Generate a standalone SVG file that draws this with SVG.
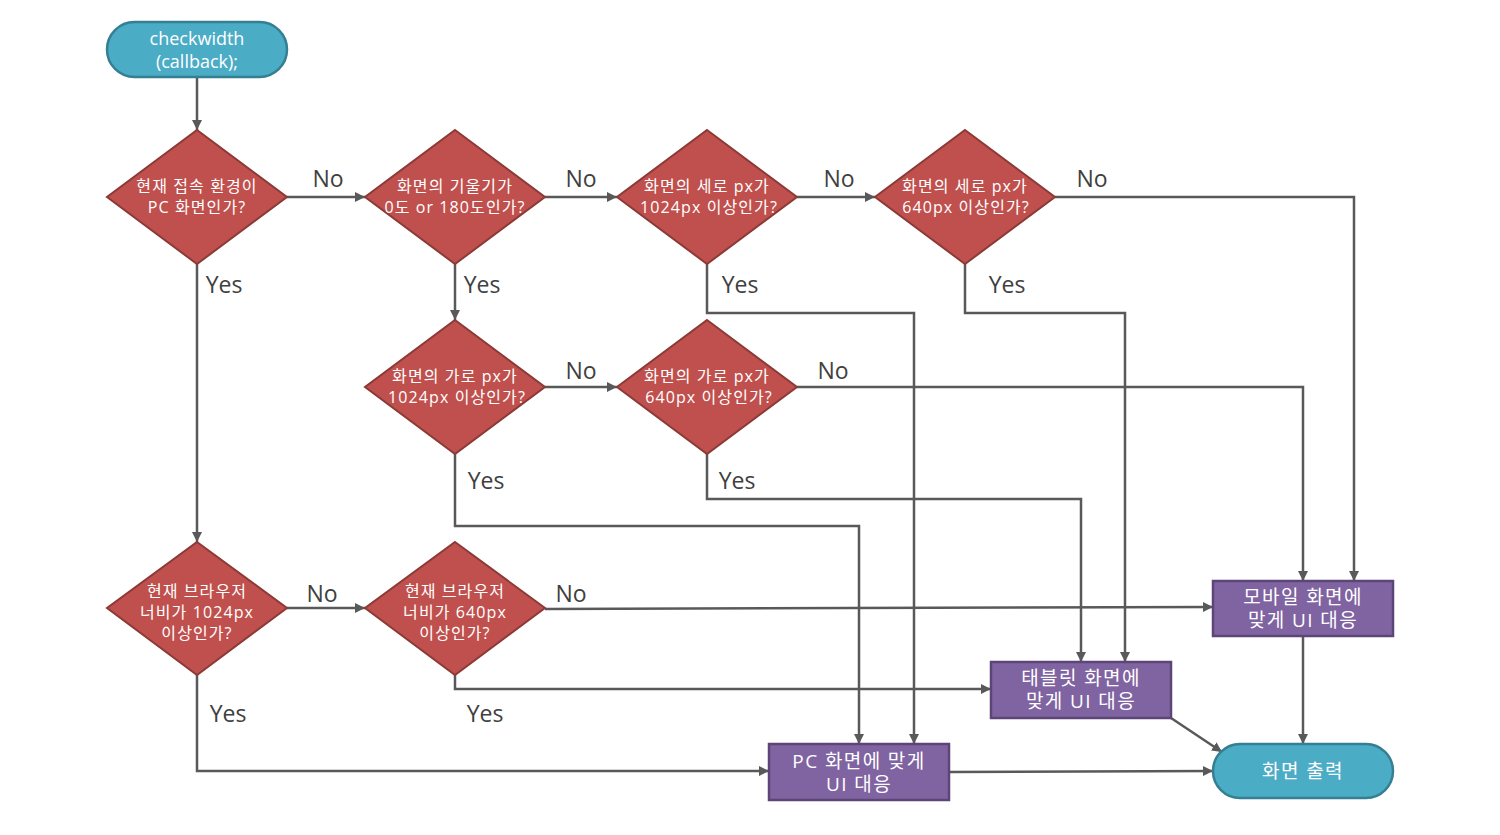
<svg xmlns="http://www.w3.org/2000/svg" width="1500" height="835" viewBox="0 0 1500 835">
<defs>
<marker id="arr" viewBox="0 0 10 10" refX="10" refY="5" markerWidth="10" markerHeight="10" markerUnits="userSpaceOnUse" orient="auto">
<path d="M0,0 L10,5 L0,10 z" fill="#595959"/>
</marker>
<style>
.dia{fill:#C0504D;stroke:#8C3A37;stroke-width:2}
.box{fill:#8064A2;stroke:#5C4678;stroke-width:2.5}
.pill{fill:#4BACC6;stroke:#357F93;stroke-width:2.5}
.t{font-family:"Open Sans","Noto Sans CJK KR",sans-serif;fill:#fff;text-anchor:middle}
.dt{font-size:16px;letter-spacing:1.1px}
.bt{font-size:19px;letter-spacing:1.4px}
.lbl{font-family:"Open Sans","Noto Sans CJK KR",sans-serif;fill:#404040;font-size:23px;text-anchor:middle}
.c{fill:none;stroke:#595959;stroke-width:2.5;marker-end:url(#arr)}
</style>
</defs>
<rect width="1500" height="835" fill="#fff"/>

<g id="connectors">
<path class="c" d="M197,77 V130"/>
<path class="c" d="M287,197 H365"/>
<path class="c" d="M545,197 H617"/>
<path class="c" d="M797,197 H875"/>
<path class="c" d="M1055,197 H1354 V581"/>
<path class="c" d="M197,264 V542"/>
<path class="c" d="M455,264 V320"/>
<path class="c" d="M707,264 V313 H914 V744"/>
<path class="c" d="M965,264 V313 H1125 V662"/>
<path class="c" d="M545,387 H617"/>
<path class="c" d="M797,387 H1303 V581"/>
<path class="c" d="M455,454 V526 H859 V744"/>
<path class="c" d="M707,454 V499 H1081 V662"/>
<path class="c" d="M287,608 H365"/>
<path class="c" d="M545,609 L1213,607"/>
<path class="c" d="M197,675 V771 H769"/>
<path class="c" d="M455,675 V689 H991"/>
<path class="c" d="M1303,636 V744"/>
<path class="c" d="M1171,718 L1222,752"/>
<path class="c" d="M949,772 L1213,771"/>
<text class="lbl" x="328" y="187">No</text>
<text class="lbl" x="581" y="187">No</text>
<text class="lbl" x="839" y="187">No</text>
<text class="lbl" x="1092" y="187">No</text>
<text class="lbl" x="224" y="293">Yes</text>
<text class="lbl" x="482" y="293">Yes</text>
<text class="lbl" x="740" y="293">Yes</text>
<text class="lbl" x="1007" y="293">Yes</text>
<text class="lbl" x="581" y="379">No</text>
<text class="lbl" x="833" y="379">No</text>
<text class="lbl" x="486" y="489">Yes</text>
<text class="lbl" x="737" y="489">Yes</text>
<text class="lbl" x="322" y="602">No</text>
<text class="lbl" x="571" y="602">No</text>
<text class="lbl" x="228" y="722">Yes</text>
<text class="lbl" x="485" y="722">Yes</text>
</g>

<g id="start">
<rect class="pill" x="107" y="22" width="180" height="55" rx="27.5"/>
<text class="t" x="197" y="45" font-size="18">checkwidth</text>
<text class="t" x="197" y="68" font-size="18">(callback);</text>
</g>

<g id="d1">
<polygon class="dia" points="197,130 287,197 197,264 107,197"/>
<text class="t dt" x="197" y="192">현재 접속 환경이</text>
<text class="t dt" x="197" y="213">PC 화면인가?</text>
</g>
<g id="d2">
<polygon class="dia" points="455,130 545,197 455,264 365,197"/>
<text class="t dt" x="455" y="192">화면의 기울기가</text>
<text class="t dt" x="455" y="213">0도 or 180도인가?</text>
</g>
<g id="d3">
<polygon class="dia" points="707,130 797,197 707,264 617,197"/>
<text class="t dt" x="707" y="192">화면의 세로 px가</text>
<text class="t dt" x="709" y="213">1024px 이상인가?</text>
</g>
<g id="d4">
<polygon class="dia" points="965,130 1055,197 965,264 875,197"/>
<text class="t dt" x="965" y="192">화면의 세로 px가</text>
<text class="t dt" x="966" y="213">640px 이상인가?</text>
</g>
<g id="d5">
<polygon class="dia" points="455,320 545,387 455,454 365,387"/>
<text class="t dt" x="455" y="382">화면의 가로 px가</text>
<text class="t dt" x="457" y="403">1024px 이상인가?</text>
</g>
<g id="d6">
<polygon class="dia" points="707,320 797,387 707,454 617,387"/>
<text class="t dt" x="707" y="382">화면의 가로 px가</text>
<text class="t dt" x="709" y="403">640px 이상인가?</text>
</g>
<g id="d7">
<polygon class="dia" points="197,542 287,608 197,675 107,608"/>
<text class="t dt" x="197" y="597">현재 브라우저</text>
<text class="t dt" x="197" y="618">너비가 1024px</text>
<text class="t dt" x="197" y="639">이상인가?</text>
</g>
<g id="d8">
<polygon class="dia" points="455,542 545,608 455,675 365,608"/>
<text class="t dt" x="455" y="597">현재 브라우저</text>
<text class="t dt" x="455" y="618">너비가 640px</text>
<text class="t dt" x="455" y="639">이상인가?</text>
</g>

<g id="mobile">
<rect class="box" x="1213" y="581" width="180" height="55"/>
<text class="t bt" x="1303" y="604">모바일 화면에</text>
<text class="t bt" x="1303" y="627">맞게 UI 대응</text>
</g>
<g id="tablet">
<rect class="box" x="991" y="662" width="180" height="56"/>
<text class="t bt" x="1081" y="685">태블릿 화면에</text>
<text class="t bt" x="1081" y="708">맞게 UI 대응</text>
</g>
<g id="pc">
<rect class="box" x="769" y="744" width="180" height="56"/>
<text class="t bt" x="859" y="768">PC 화면에 맞게</text>
<text class="t bt" x="859" y="791">UI 대응</text>
</g>
<g id="end">
<rect class="pill" x="1213" y="744" width="180" height="54" rx="27"/>
<text class="t bt" x="1303" y="778">화면 출력</text>
</g>
</svg>
